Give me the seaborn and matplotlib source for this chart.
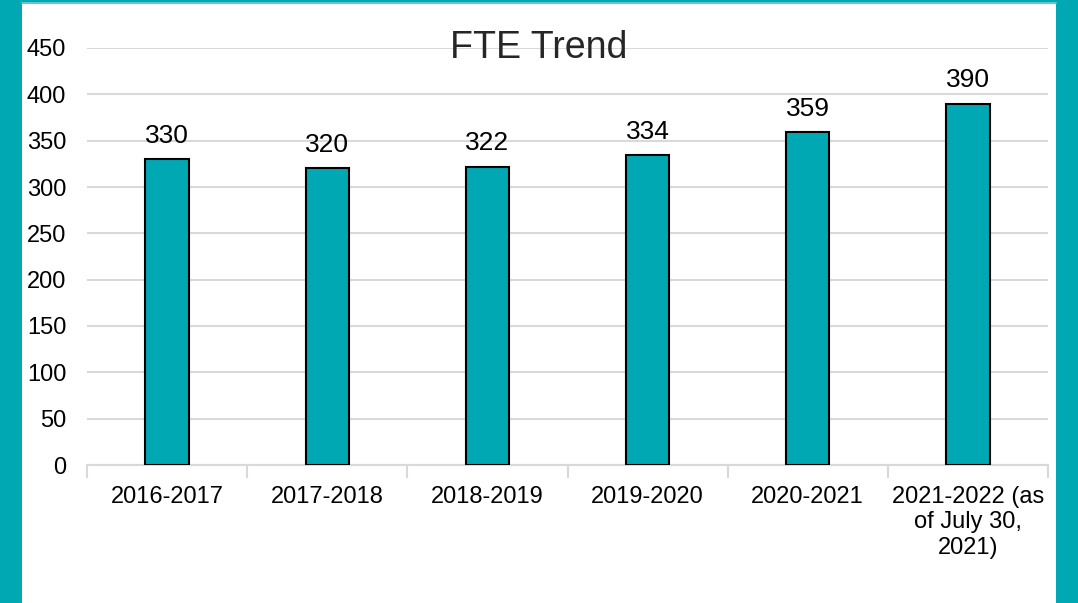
import numpy as np
import matplotlib.pyplot as plt
import seaborn as sns
from matplotlib.patches import Rectangle
from matplotlib.lines import Line2D

# Data
years = ["2016-2017", "2017-2018", "2018-2019", "2019-2020", "2020-2021",
         "2021-2022 (as\nof July 30,\n2021)"]
fte = [330, 320, 322, 334, 359, 390]
yticks = [0, 50, 100, 150, 200, 250, 300, 350, 400, 450]

teal = "#00A8B4"

sns.set_theme(style="white")
plt.rcParams['font.family'] = ['Liberation Sans', 'DejaVu Sans']

fig = plt.figure(figsize=(10.78, 6.03), dpi=100, facecolor=teal)

# white slide panel with a thin lighter strip on top
fig.patches.append(Rectangle((22 / 1078, 0), (1056 - 22) / 1078, 1 - 4 / 603,
                             transform=fig.transFigure, facecolor="white",
                             edgecolor="none", zorder=-5))
fig.lines.append(Line2D([22 / 1078, 1056 / 1078], [1 - 3 / 603, 1 - 3 / 603],
                        transform=fig.transFigure, color="#6FCFD6", lw=1.2,
                        zorder=-4))

ax = fig.add_axes([87 / 1078, 1 - 465 / 603, (1048 - 87) / 1078, (465 - 48) / 603])
ax.set_facecolor("none")

sns.barplot(x=years, y=fte, color=teal, saturation=1, width=0.27,
            edgecolor="black", linewidth=1.5, ax=ax, zorder=3)

for i, v in enumerate(fte):
    ax.text(i, v + 12, str(v), ha="center", va="bottom", fontsize=19, color="black")

ax.set_ylim(0, 450)
ax.set_xlim(-0.5, 5.5)
ax.set_yticks(yticks)
ax.set_yticklabels([str(t) for t in yticks], fontsize=17, color="black")
ax.tick_params(axis="y", length=0, pad=15)
ax.yaxis.grid(True, color="#D9D9D9", lw=1.5, zorder=0)
ax.set_axisbelow(True)

ax.set_xticks(range(len(years)))
ax.set_xticklabels(years, fontsize=17, color="black", linespacing=1.2)
ax.set_xticks(np.arange(-0.5, 6, 1), minor=True)
ax.tick_params(axis="x", which="major", length=0, pad=15)
ax.tick_params(axis="x", which="minor", length=9, width=1.5, color="#D9D9D9",
               bottom=True)

for s in ["top", "right", "left"]:
    ax.spines[s].set_visible(False)
ax.spines["bottom"].set_color("#D9D9D9")
ax.spines["bottom"].set_linewidth(1.5)

ax.set_xlabel("")
ax.set_ylabel("")
fig.text(539 / 1078, 1 - 48 / 603, "FTE Trend", ha="center", va="center",
         fontsize=27, color="#262626")

fig.savefig("out.png", dpi=100, facecolor=teal)
